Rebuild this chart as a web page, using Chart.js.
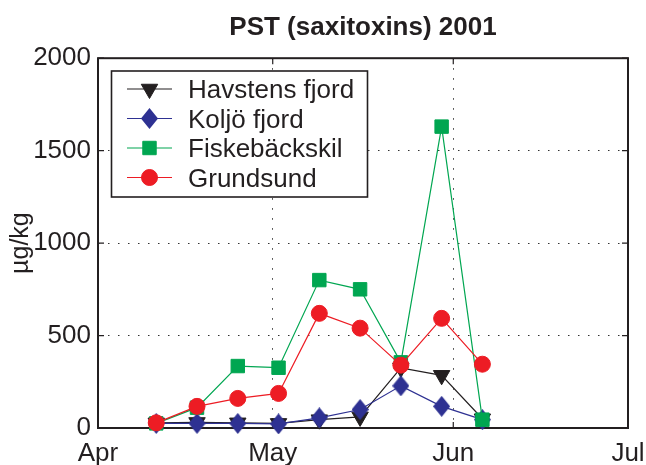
<!DOCTYPE html>
<html>
<head>
<meta charset="utf-8">
<script src="https://cdn.jsdelivr.net/npm/chart.js@4.4.0/dist/chart.umd.min.js"></script>
<style>
  html, body { margin: 0; padding: 0; background: #fff; }
  #wrap { width: 646px; height: 465px; }
</style>
</head>
<body>
<div id="wrap"><canvas id="c" width="646" height="465"></canvas></div>
<script>
// PST (saxitoxin) levels in mussels, west coast stations, spring 2001
const titleText = 'PST (saxitoxins) 2001';
const yAxisLabel = 'µg/kg';
const monthLabels = ['Apr', 'May', 'Jun', 'Jul'];
const monthStarts = ['2001-04-01', '2001-05-01', '2001-06-01', '2001-07-01'];
const yTicks = [0, 500, 1000, 1500, 2000];
const sampleDates = ['2001-04-11', '2001-04-18', '2001-04-25', '2001-05-02', '2001-05-09',
                     '2001-05-16', '2001-05-23', '2001-05-30', '2001-06-06'];
const seriesNames = ['Havstens fjord', 'Koljö fjord', 'Fiskebäckskil', 'Grundsund'];
const havstens      = [28, 30, 28, 25, 45, 60, 325, 285, 50];
const koljo         = [25, 25, 25, 22, 55, 100, 228, 117, 45];
const fiskebackskil = [25, 110, 335, 326, 800, 750, 355, 1630, 45];
const grundsund     = [28, 117, 160, 187, 620, 540, 340, 593, 345];

const FONT = "'Liberation Sans', Arial, Helvetica, sans-serif";
const INK = '#231f20';
const COLORS = ['#231f20', '#2e3192', '#00a651', '#ed1c24'];

// days since 1 April
const dayOf = s => (Date.parse(s + 'T00:00:00Z') - Date.parse(monthStarts[0] + 'T00:00:00Z')) / 86400000;
const monthDays = monthStarts.map(dayOf);
const sampleDays = sampleDates.map(dayOf);

// tall diamond marker
function diamond(color, w, h) {
  const c = document.createElement('canvas');
  c.width = w; c.height = h;
  const g = c.getContext('2d');
  g.fillStyle = color;
  g.beginPath();
  g.moveTo(w / 2, 0);
  g.lineTo(w, h / 2);
  g.lineTo(w / 2, h);
  g.lineTo(0, h / 2);
  g.closePath();
  g.fill();
  return c;
}

const markers = [
  { pointStyle: 'triangle', rotation: 180, radius: 9.5 },
  { pointStyle: diamond(COLORS[1], 17, 21), rotation: 0, radius: 9 },
  { pointStyle: 'rect', rotation: 0, radius: 9.5 },
  { pointStyle: 'circle', rotation: 0, radius: 8 }
];

const seriesValues = [havstens, koljo, fiskebackskil, grundsund];

const datasets = seriesValues.map((vals, k) => ({
  label: seriesNames[k],
  data: sampleDays.map((d, i) => ({ x: d, y: vals[i] })),
  borderColor: COLORS[k],
  backgroundColor: COLORS[k],
  borderWidth: 1.2,
  pointStyle: markers[k].pointStyle,
  pointRotation: markers[k].rotation,
  pointRadius: markers[k].radius,
  pointBackgroundColor: COLORS[k],
  pointBorderColor: COLORS[k],
  pointBorderWidth: 1,
  tension: 0,
  clip: false,
  order: 4 - k
}));

// box frame with inward tick marks on all four sides
const framePlugin = {
  id: 'frame',
  beforeDatasetsDraw(chart) {
    const { ctx, chartArea: a, scales: { x, y } } = chart;
    const tl = 6;
    ctx.save();
    ctx.strokeStyle = INK;
    ctx.lineWidth = 1.2;
    ctx.beginPath();
    monthDays.forEach(v => {
      const px = x.getPixelForValue(v);
      ctx.moveTo(px, a.bottom); ctx.lineTo(px, a.bottom - tl);
      ctx.moveTo(px, a.top); ctx.lineTo(px, a.top + tl);
    });
    yTicks.forEach(v => {
      const py = y.getPixelForValue(v);
      ctx.moveTo(a.left, py); ctx.lineTo(a.left + tl, py);
      ctx.moveTo(a.right, py); ctx.lineTo(a.right - tl, py);
    });
    ctx.stroke();
    ctx.lineWidth = 2;
    ctx.strokeRect(a.left, a.top, a.right - a.left, a.bottom - a.top);
    ctx.restore();
  }
};

// boxed legend inside the plot, line + marker samples
const legendPlugin = {
  id: 'boxLegend',
  afterDatasetsDraw(chart) {
    const { ctx } = chart;
    const bx = 111.5, by = 71, bw = 256, bh = 126;
    ctx.save();
    ctx.fillStyle = '#fff';
    ctx.fillRect(bx, by, bw, bh);
    ctx.strokeStyle = INK;
    ctx.lineWidth = 1.6;
    ctx.strokeRect(bx, by, bw, bh);
    chart.data.datasets.forEach((ds, k) => {
      const ry = by + 18 + k * 29.5;
      ctx.strokeStyle = ds.borderColor;
      ctx.lineWidth = 1.2;
      ctx.beginPath();
      ctx.moveTo(127, ry); ctx.lineTo(172, ry);
      ctx.stroke();
      ctx.fillStyle = ds.pointBackgroundColor;
      ctx.strokeStyle = ds.pointBorderColor;
      ctx.lineWidth = 1;
      Chart.helpers.drawPoint(ctx, {
        pointStyle: ds.pointStyle, rotation: ds.pointRotation,
        radius: ds.pointRadius, borderWidth: 1
      }, 149.5, ry);
      ctx.fillStyle = INK;
      ctx.font = '26px ' + FONT;
      ctx.textAlign = 'left';
      ctx.textBaseline = 'alphabetic';
      ctx.fillText(ds.label, 188, ry + 9.3);
    });
    ctx.restore();
  }
};

const tickFont = { family: FONT, size: 26 };

new Chart(document.getElementById('c'), {
  type: 'line',
  data: { datasets },
  plugins: [framePlugin, legendPlugin],
  options: {
    responsive: false,
    animation: false,
    devicePixelRatio: 1,
    layout: { padding: { left: 0, right: 18, top: 0, bottom: 0 } },
    plugins: {
      legend: { display: false },
      tooltip: { enabled: false },
      title: {
        display: true,
        text: titleText,
        fullSize: false,
        color: INK,
        font: { family: FONT, size: 26, weight: 'bold', lineHeight: 1.2 },
        padding: { top: 12, bottom: 15 }
      }
    },
    scales: {
      x: {
        type: 'linear',
        min: monthDays[0],
        max: monthDays[monthDays.length - 1],
        afterBuildTicks: s => { s.ticks = monthDays.map(v => ({ value: v })); },
        afterFit: s => { s.height = 37; s.paddingLeft = 0; s.paddingRight = 0; },
        ticks: {
          autoSkip: false, maxRotation: 0, padding: 10,
          color: INK, font: tickFont,
          callback: (v, i) => monthLabels[i]
        },
        grid: { color: '#333', lineWidth: 1, drawTicks: false },
        border: { display: false, dash: [1.5, 8.5] }
      },
      y: {
        min: yTicks[0],
        max: yTicks[yTicks.length - 1],
        afterBuildTicks: s => { s.ticks = yTicks.map(v => ({ value: v })); },
        afterFit: s => { s.width = 98; s.paddingTop = 0; s.paddingBottom = 0; },
        ticks: {
          padding: 7, color: INK, font: tickFont,
          callback: v => String(v)
        },
        title: {
          display: true, text: yAxisLabel, color: INK,
          font: { family: FONT, size: 25 },
          padding: { top: 6, bottom: 0 }
        },
        grid: { color: '#333', lineWidth: 1, drawTicks: false },
        border: { display: false, dash: [1.5, 8.5] }
      }
    }
  }
});
</script>
</body>
</html>
